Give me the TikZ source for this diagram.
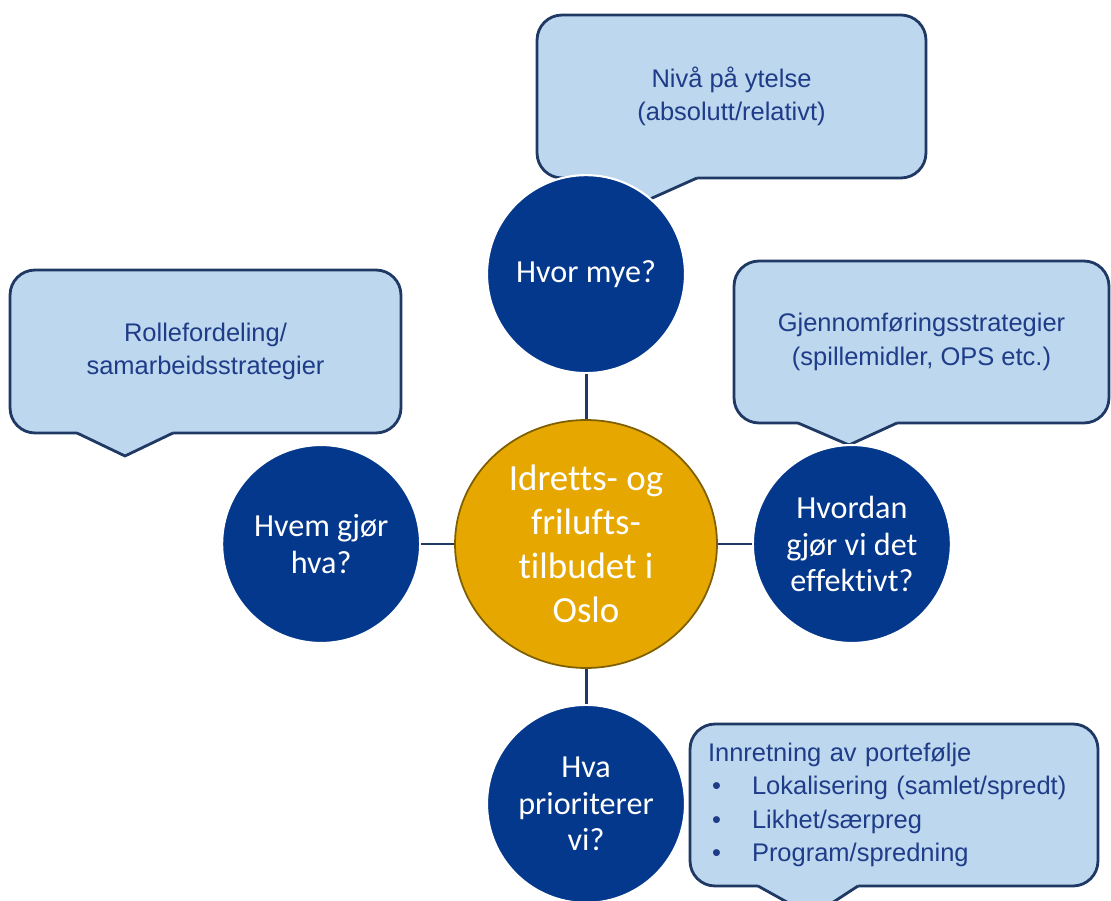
\documentclass[tikz,border=0pt]{standalone}
\usepackage{fontspec}
\setmainfont{Carlito}[Ligatures=NoCommon]
\newfontfamily\calloutfont{Liberation Sans}
\usepackage{tikz}
\usetikzlibrary{positioning,shapes.geometric}
\definecolor{topicblue}{HTML}{04388C}
\definecolor{hubgold}{HTML}{E6A700}
\definecolor{hubedge}{HTML}{7F6000}
\definecolor{bubblefill}{HTML}{BDD7EE}
\definecolor{bubbleedge}{HTML}{1F3864}
\definecolor{bubbletext}{HTML}{1F3C88}
\definecolor{linkcol}{HTML}{1F3864}

\begin{document}
\begin{tikzpicture}[x=0.02cm, y=-0.02cm,
  hub/.style={ellipse, draw=hubedge, line width=1pt, fill=hubgold, minimum width=5.24cm, minimum height=4.96cm, align=center, text=white, font=\fontsize{21}{25}\selectfont},
  topic/.style={circle, draw=white, line width=1.2pt, fill=topicblue, minimum size=3.96cm, inner sep=0pt, align=center, text=white, font=\fontsize{18.3}{21}\selectfont},
  bubble/.style={draw=bubbleedge, line width=1.6pt, fill=bubblefill, rounded corners=0.5cm, align=center, text=bubbletext, font=\calloutfont\fontsize{14.5}{19}\selectfont},
  tail/.style={fill=bubblefill},
  tailedge/.style={draw=bubbleedge, line width=1.6pt, line join=round},
  link/.style={draw=linkcol, line width=1.7pt}
]
  \useasboundingbox (0,0) rectangle (1111,901);

  % speech bubbles
  \node[bubble, minimum width=7.78cm, minimum height=3.26cm] (nivaa) at (731.5,96.5) {Nivå på ytelse\\(absolutt/relativt)};
  \node[bubble, minimum width=7.82cm, minimum height=3.26cm] (rolle) at (205.5,351.5) {Rollefordeling/\\samarbeidsstrategier};
  \node[bubble, minimum width=7.5cm, minimum height=3.24cm] (gjenn) at (921.5,342) {Gjennomføringsstrategier\\(spillemidler, OPS etc.)};
  \node[bubble, minimum width=8.16cm, minimum height=3.24cm, text width=7.44cm, align=left] (innr) at (894,805) {Innretning av portefølje\\
    \hspace*{0.08cm}\makebox[0.8cm][l]{\textbullet}Lokalisering (samlet/spredt)\\
    \hspace*{0.08cm}\makebox[0.8cm][l]{\textbullet}Likhet/særpreg\\
    \hspace*{0.08cm}\makebox[0.8cm][l]{\textbullet}Program/spredning};

  % tails: left base x / tip x / tip y / right base x / base y
  \foreach \xl/\xt/\yt/\xr/\yb in {595/630/208/697/178, 77/125/456/173/433, 798/849/445/897/423, 758/812/916/858/886} {
    \fill[tail] (\xl,\yb-4) -- (\xl,\yb) -- (\xt,\yt) -- (\xr,\yb) -- (\xr,\yb-4) -- cycle;
    \draw[tailedge] (\xl,\yb) -- (\xt,\yt) -- (\xr,\yb);
  }

  % hub and questions
  \node[hub] (hub) at (586,544) {Idretts- og\\frilufts-\\tilbudet i\\Oslo};
  \node[topic, above=0.9cm of hub] (hvor) {Hvor mye?};
  \node[topic, left=0.66cm of hub] (hvem) {Hvem gjør\\hva?};
  \node[topic, right=0.68cm of hub] (hvordan) {Hvordan\\gjør vi det\\effektivt?};
  \node[topic, below=0.7cm of hub] (hva) {Hva\\prioriterer\\vi?};

  \draw[link] (hvor) -- (hub);
  \draw[link] (hvem) -- (hub);
  \draw[link] (hvordan) -- (hub);
  \draw[link] (hva) -- (hub);
\end{tikzpicture}
\end{document}
